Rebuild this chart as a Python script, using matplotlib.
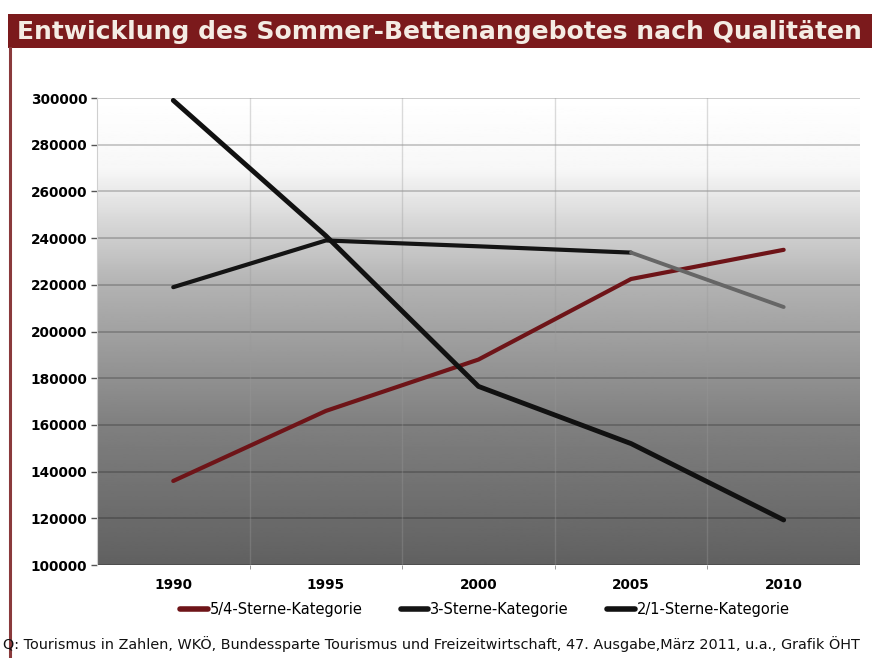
import numpy as np
import matplotlib.pyplot as plt
from matplotlib.patches import Rectangle
from matplotlib.lines import Line2D

plt.rcParams.update({
    "font.family": "DejaVu Sans",
    "font.size": 10,
})

DARKRED = "#6e1418"
TITLE_RED = "#7b1a1c"

# --------- data ----------
years = ["1990", "1995", "2000", "2005", "2010"]
stars_5_4 = [136000, 166000, 188000, 222500, 235000]
stars_3 = [219000, 239000, 236500, 233800, 210500]
stars_2_1 = [299000, 241000, 176500, 152000, 119300]
series_labels = ["5/4-Sterne-Kategorie", "3-Sterne-Kategorie", "2/1-Sterne-Kategorie"]
yticks = [100000, 120000, 140000, 160000, 180000, 200000,
          220000, 240000, 260000, 280000, 300000]

title = "Entwicklung des Sommer-Bettenangebotes nach Qualitäten"
source = ("Q: Tourismus in Zahlen, WKÖ, Bundessparte Tourismus und "
          "Freizeitwirtschaft, 47. Ausgabe,März 2011, u.a., Grafik ÖHT")

fig = plt.figure(figsize=(8.72, 6.58), dpi=100)
fig.patch.set_facecolor("white")

# title banner + left frame line
fig.patches.append(Rectangle((0.009, 0.927), 0.991, 0.052, transform=fig.transFigure,
                             facecolor=TITLE_RED, edgecolor="none", zorder=0))
fig.add_artist(Line2D([0.012, 0.012], [0.0, 0.927], transform=fig.transFigure,
                      color="#8a3a3c", lw=2.2))
fig.text(0.02, 0.952, title, color="#f4ece4", fontsize=18, fontweight="bold",
         va="center", ha="left")

ax = fig.add_axes([0.1112, 0.1413, 0.875, 0.7097])
x = np.arange(len(years))

# gradient background (white at top -> gray at bottom)
t = np.linspace(0, 1, 256)
shade = np.interp(t, [0.0, 0.3, 0.6, 0.75, 0.85, 1.0],
                  [0.38, 0.50, 0.70, 0.86, 0.97, 1.0])
ax.imshow(shade.reshape(-1, 1), cmap="gray", vmin=0, vmax=1, aspect="auto",
          origin="lower", extent=(-0.5, 4.5, 100000, 300000), zorder=0)

ax.set_xlim(-0.5, 4.5)
ax.set_ylim(100000, 300000)
ax.set_yticks(yticks)
ax.set_yticklabels([str(v) for v in yticks], fontweight="bold", fontsize=9.8)
ax.set_xticks(x)
ax.set_xticklabels(years, fontweight="bold", fontsize=9.8)
ax.set_xticks(x[:-1] + 0.5, minor=True)
ax.tick_params(axis="x", which="major", length=0, pad=9)
ax.tick_params(axis="x", which="minor", length=3, color="#888888")
ax.tick_params(axis="y", length=4, width=1, color="#555555", pad=3)

for v in yticks:
    ax.axhline(v, color="black", alpha=0.25, lw=1.1, zorder=1)
for b in x[:-1] + 0.5:
    ax.axvline(b, color="#999999", alpha=0.35, lw=1, zorder=1)

for s in ["top", "right", "bottom"]:
    ax.spines[s].set_visible(False)
ax.spines["left"].set_color("#cfcfcf")

l1, = ax.plot(x, stars_5_4, color=DARKRED, lw=3, solid_capstyle="round", zorder=3)
l2, = ax.plot(x[:4], stars_3[:4], color="#141414", lw=3, solid_capstyle="round", zorder=3)
ax.plot(x[3:], stars_3[3:], color="#666666", lw=2.8, solid_capstyle="round", zorder=3)
l3, = ax.plot(x, stars_2_1, color="#111111", lw=3.5, solid_capstyle="round", zorder=4)

leg = fig.legend([l1, l2, l3], series_labels, loc="center", bbox_to_anchor=(0.556, 0.074),
                 ncol=3, frameon=False, fontsize=10.5, handlelength=1.9,
                 handletextpad=0.15, columnspacing=2.6)
for h in leg.get_lines():
    h.set_linewidth(4)

fig.text(0.003, 0.022, source, fontsize=10.4, ha="left", va="center", color="#111111")

fig.savefig("out.png", dpi=100)
